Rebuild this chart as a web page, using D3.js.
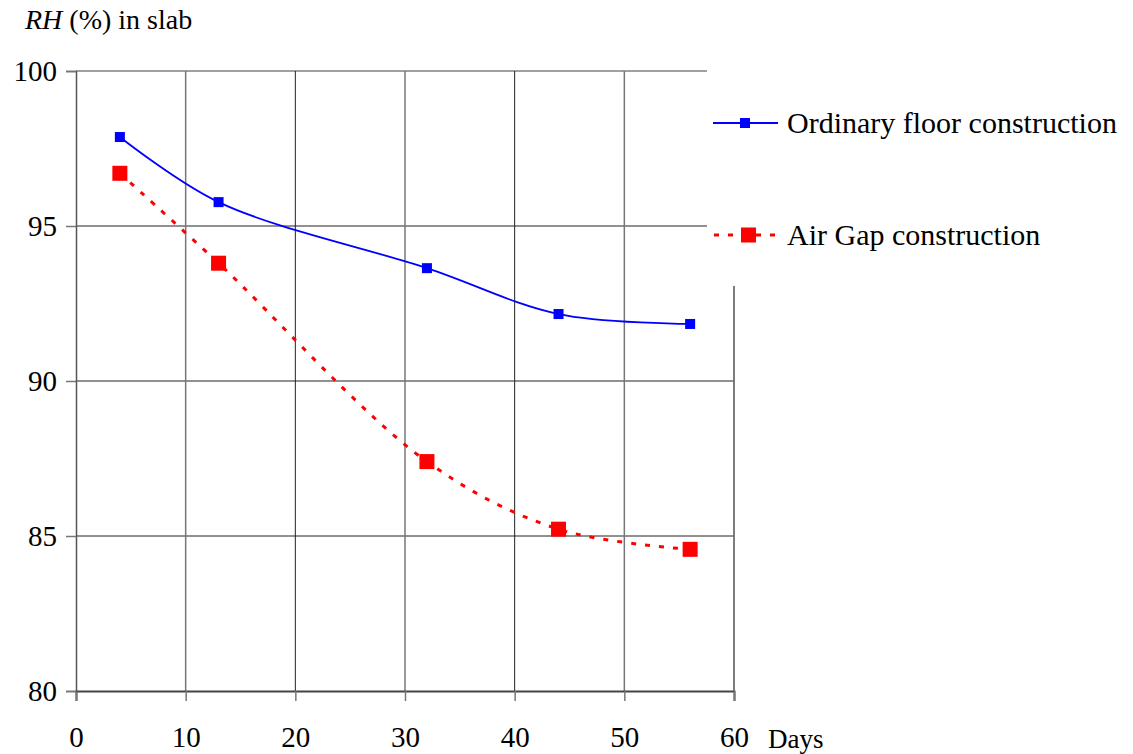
<!DOCTYPE html>
<html>
<head>
<meta charset="utf-8">
<script src="https://cdn.jsdelivr.net/npm/d3@7"></script>
<style>
  body { margin: 0; background: #fff; }
  text { font-family: "Liberation Serif", "DejaVu Serif", serif; fill: #000; }
</style>
</head>
<body>
<div id="chart"></div>
<script>
// ============================
// Data
// ============================
const days = [4, 13, 32, 44, 56];
const ordinaryRH = [97.87, 95.77, 93.64, 92.16, 91.84];
const airGapRH = [96.7, 93.8, 87.4, 85.22, 84.57];
const xTicks = [0, 10, 20, 30, 40, 50, 60];
const yTicks = [80, 85, 90, 95, 100];
const seriesNames = ["Ordinary floor construction", "Air Gap construction"];

const width = 1133, height = 754;
const margin = {left: 76, right: 399, top: 71, bottom: 63};

const svg = d3.select("#chart").append("svg")
  .attr("width", width).attr("height", height);

const xscale = d3.scaleLinear().domain([0, 60]).range([margin.left, width - margin.right]);
const yscale = d3.scaleLinear().domain([80, 100]).range([height - margin.bottom, margin.top]);

// ============================
// Grid
// ============================
svg.append("g")
  .selectAll("line")
  .data(yTicks.filter(d => d > 80))
  .join("line")
  .attr("x1", xscale(0)).attr("x2", xscale(60))
  .attr("y1", d => yscale(d)).attr("y2", d => yscale(d))
  .attr("stroke", d => d === 100 ? "#808080" : "#222")
  .attr("stroke-width", d => d === 100 ? 1.5 : 1);

svg.append("g")
  .selectAll("line")
  .data(xTicks.filter(d => d > 0))
  .join("line")
  .attr("x1", d => xscale(d)).attr("x2", d => xscale(d))
  .attr("y1", yscale(100)).attr("y2", yscale(80))
  .attr("stroke", (d, i) => i % 2 === 0 ? "#777" : "#222")
  .attr("stroke-width", (d, i) => i % 2 === 0 ? 1.5 : 1);

// ============================
// Axes
// ============================
const xAxis = svg.append("g")
  .attr("transform", `translate(0,${yscale(80)})`)
  .call(d3.axisBottom(xscale).tickValues(xTicks).tickSize(10).tickPadding(25));
xAxis.select(".domain").attr("stroke", "#444").attr("stroke-width", 2);
xAxis.selectAll(".tick line").attr("stroke", "#777").attr("stroke-width", 1.5);
xAxis.selectAll("text").attr("font-size", 29).attr("fill", "#000");

const yAxis = svg.append("g")
  .attr("transform", `translate(${xscale(0)},0)`)
  .call(d3.axisLeft(yscale).tickValues(yTicks).tickSize(10).tickPadding(9));
yAxis.select(".domain").attr("stroke", "#555").attr("stroke-width", 1.5);
yAxis.selectAll(".tick line").attr("stroke", "#777").attr("stroke-width", 1.5);
yAxis.selectAll("text").attr("font-size", 29).attr("fill", "#000");

svg.append("text")
  .attr("x", 768).attr("y", 748)
  .attr("font-size", 27)
  .text("Days");

const title = svg.append("text")
  .attr("x", 25).attr("y", 29)
  .attr("font-size", 28);
title.append("tspan").attr("font-style", "italic").text("RH");
title.append("tspan").text(" (%) in slab");

// ============================
// Series
// ============================
const line = d3.line()
  .curve(d3.curveCatmullRom.alpha(0.5))
  .x(d => xscale(d[0]))
  .y(d => yscale(d[1]));

const ordData = days.map((d, i) => [d, ordinaryRH[i]]);
const gapData = days.map((d, i) => [d, airGapRH[i]]);

svg.append("path")
  .datum(gapData)
  .attr("d", line)
  .attr("fill", "none")
  .attr("stroke", "#ff0000")
  .attr("stroke-width", 3)
  .attr("stroke-dasharray", "5,9");

svg.append("path")
  .datum(ordData)
  .attr("d", line)
  .attr("fill", "none")
  .attr("stroke", "#0000ff")
  .attr("stroke-width", 1.8);

svg.append("g")
  .selectAll("rect")
  .data(gapData)
  .join("rect")
  .attr("x", d => xscale(d[0]) - 7.5).attr("y", d => yscale(d[1]) - 7.5)
  .attr("width", 15).attr("height", 15)
  .attr("fill", "#ff0000");

svg.append("g")
  .selectAll("rect")
  .data(ordData)
  .join("rect")
  .attr("x", d => xscale(d[0]) - 5).attr("y", d => yscale(d[1]) - 5)
  .attr("width", 10).attr("height", 10)
  .attr("fill", "#0000ff");

// ============================
// Legend (covers part of the plot)
// ============================
const legend = svg.append("g");
legend.append("rect")
  .attr("x", 707).attr("y", 60).attr("width", 426).attr("height", 226)
  .attr("fill", "#fff");

// right edge of plot below the legend
svg.append("line")
  .attr("x1", xscale(60)).attr("x2", xscale(60))
  .attr("y1", 286).attr("y2", yscale(80))
  .attr("stroke", "#777").attr("stroke-width", 1.5);

const ly = [123, 235];
legend.append("line")
  .attr("x1", 713).attr("x2", 778).attr("y1", ly[0]).attr("y2", ly[0])
  .attr("stroke", "#0000ff").attr("stroke-width", 1.8);
legend.append("rect")
  .attr("x", 740).attr("y", ly[0] - 5).attr("width", 10).attr("height", 10)
  .attr("fill", "#0000ff");
legend.append("line")
  .attr("x1", 714).attr("x2", 778).attr("y1", ly[1]).attr("y2", ly[1])
  .attr("stroke", "#ff0000").attr("stroke-width", 3)
  .attr("stroke-dasharray", "5,9");
legend.append("rect")
  .attr("x", 741).attr("y", ly[1] - 7.5).attr("width", 15).attr("height", 15)
  .attr("fill", "#ff0000");

legend.selectAll("text.lbl")
  .data(seriesNames)
  .join("text")
  .attr("class", "lbl")
  .attr("x", 787).attr("y", (d, i) => ly[i] + 10)
  .attr("font-size", 30)
  .text(d => d);
</script>
</body>
</html>
